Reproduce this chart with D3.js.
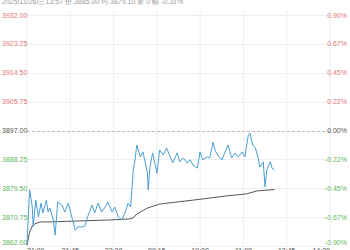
<!DOCTYPE html>
<html>
<head>
<meta charset="utf-8">
<script src="https://cdn.jsdelivr.net/npm/d3@7"></script>
<style>
  body { margin: 0; background: #fff; }
  text { font-family: "Liberation Sans", Arial, sans-serif; }
</style>
</head>
<body>
<script>
// minute index in the 345 minute session and price
var priceMin = [0, 3, 6, 7, 10, 13, 16, 18, 22, 24, 26, 30, 32, 35, 40, 43, 47, 51, 55, 58, 63, 66, 69, 74, 77, 81, 85, 89, 92, 97, 100, 104, 108, 112, 115, 118,
  121, 123, 125, 129, 132, 137, 138, 140, 143, 148, 151, 155, 159, 163, 166, 171, 174, 178, 182, 186, 189, 194, 197, 200, 205, 208, 212, 214, 217, 222, 225, 229,
  233, 237, 240, 245, 248, 252, 254, 257, 260, 263, 265, 269, 271, 273, 277, 279, 282];
var priceVal = [3862.6, 3879.0, 3873.8, 3867.8, 3875.9, 3870.8, 3875.0, 3872.0, 3875.9, 3872.3, 3873.5, 3869.9, 3865.3, 3875.3, 3874.4, 3872.3, 3875.0, 3870.8,
  3866.8, 3867.8, 3867.8, 3868.1, 3870.8, 3874.4, 3872.0, 3875.0, 3872.3, 3873.8, 3875.3, 3872.3, 3873.8, 3870.8, 3869.9, 3872.3, 3875.0, 3873.8,
  3885.0, 3888.1, 3892.6, 3889.0, 3890.5, 3884.4, 3879.0, 3885.9, 3890.2, 3884.1, 3891.1, 3889.6, 3891.7, 3889.0, 3887.2, 3890.2, 3887.5, 3888.7,
  3887.2, 3888.1, 3886.5, 3885.6, 3890.5, 3888.1, 3889.0, 3888.7, 3893.5, 3891.1, 3889.6, 3888.1, 3890.2, 3892.6, 3888.7, 3890.2, 3889.0, 3890.5,
  3889.0, 3895.6, 3896.2, 3892.6, 3891.7, 3889.0, 3885.9, 3887.5, 3879.9, 3885.0, 3887.5, 3885.6, 3885.0];

var avgMin = [0, 3, 6, 9, 15, 26, 60, 95, 117, 121, 125, 137, 151, 189, 228, 250, 262, 282];
var avgVal = [3862.3, 3866.2, 3868.1, 3868.7, 3869.3, 3869.3, 3869.6, 3869.9, 3870.2, 3870.5, 3871.7, 3873.5, 3874.7, 3875.9, 3877.2, 3877.8, 3878.7, 3879.1];

var leftTicks = [3932.00, 3923.25, 3914.50, 3905.75, 3897.00, 3888.25, 3879.50, 3870.75, 3862.00];
var rightTicks = ["0.90%", "0.67%", "0.45%", "0.22%", "0.00%", "-0.22%", "-0.45%", "-0.67%", "-0.90%"];
var timeTicks = ["21:00", "21:45", "22:30", "09:15", "10:00", "11:00", "13:45", "14:30"];
var header = "2025/11/26/三13:57 价 3885.00 均 3879.10 量 0 幅 -0.31%";
var preClose = 3897.00;
var sessionLen = 345;

var width = 350,
  height = 250;

var svg = d3.select("body")
  .append("svg")
  .attr("width", width)
  .attr("height", height);

var x = d3.scaleLinear().domain([0, sessionLen]).range([27, 330]);
var y = d3.scaleLinear().domain([3862, 3932]).range([246, 15]);

// vertical grid
var tickPos = timeTicks.map(function(d, i){ return i * sessionLen / (timeTicks.length - 1); });
svg.selectAll(".vgrid")
  .data(tickPos)
  .enter()
  .append("line")
  .attr("x1", function(d){ return x(d); })
  .attr("x2", function(d){ return x(d); })
  .attr("y1", 10)
  .attr("y2", 246)
  .attr("stroke", "#eeeeee")
  .attr("stroke-width", 1);

// horizontal grid
svg.selectAll(".hgrid")
  .data(leftTicks)
  .enter()
  .append("line")
  .attr("x1", 27)
  .attr("x2", 330)
  .attr("y1", function(d){ return Math.round(y(d)) + 0.5; })
  .attr("y2", function(d){ return Math.round(y(d)) + 0.5; })
  .attr("stroke", function(d){ return d == preClose ? "#bbbbbb" : "#eeeeee"; })
  .attr("stroke-dasharray", function(d){ return d == preClose ? "3,2" : null; })
  .attr("stroke-width", 1);

function tickColor(d){
  if (d > preClose) return "#e57373";
  if (d < preClose) return "#5cb85c";
  return "#555555";
}

function labelY(d, i){
  var v = y(d);
  if (i == 0) v = Math.max(v, 16);
  if (i == leftTicks.length - 1) v = 243;
  return v;
}

svg.selectAll(".lt")
  .data(leftTicks)
  .enter()
  .append("text")
  .attr("x", 2)
  .attr("y", labelY)
  .attr("dy", "0.35em")
  .attr("font-size", 7)
  .attr("fill", tickColor)
  .text(function(d){ return d.toFixed(2); });

svg.selectAll(".rt")
  .data(rightTicks)
  .enter()
  .append("text")
  .attr("x", 347)
  .attr("y", function(d, i){ return labelY(leftTicks[i], i); })
  .attr("dy", "0.35em")
  .attr("text-anchor", "end")
  .attr("font-size", 7)
  .attr("fill", function(d, i){ return tickColor(leftTicks[i]); })
  .text(function(d){ return d; });

svg.selectAll(".xt")
  .data(timeTicks)
  .enter()
  .append("text")
  .attr("x", function(d, i){ return x(tickPos[i]); })
  .attr("y", 253)
  .attr("text-anchor", function(d, i){ return i == 0 ? "start" : (i == timeTicks.length - 1 ? "end" : "middle"); })
  .attr("font-size", 7)
  .attr("fill", "#555555")
  .text(function(d){ return d; });

var line = d3.line()
  .x(function(d){ return x(d[0]); })
  .y(function(d){ return y(d[1]); });

svg.append("path")
  .datum(d3.zip(avgMin, avgVal))
  .attr("fill", "none")
  .attr("stroke", "#555555")
  .attr("stroke-width", 1)
  .attr("d", line);

svg.append("path")
  .datum(d3.zip(priceMin, priceVal))
  .attr("fill", "none")
  .attr("stroke", "#4a9fd4")
  .attr("stroke-width", 1)
  .attr("d", line);

svg.append("text")
  .attr("x", 2)
  .attr("y", 4)
  .attr("font-size", 7)
  .attr("fill", "#999999")
  .text(header);
</script>
</body>
</html>
